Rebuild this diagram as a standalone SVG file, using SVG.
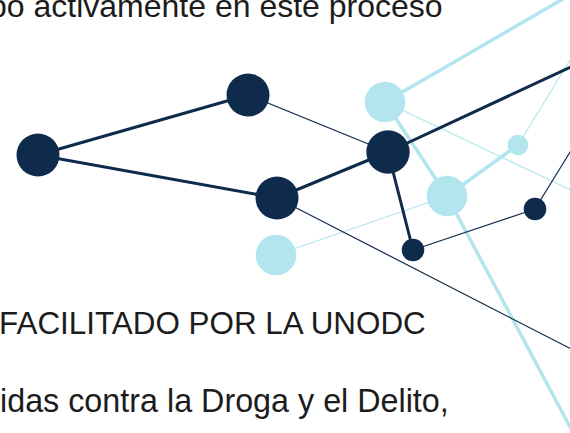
<svg xmlns="http://www.w3.org/2000/svg" width="570" height="433" viewBox="0 0 570 433">
<style>
.t{font-family:"Liberation Sans",Arial,sans-serif;font-size:32px;fill:#1c1c1c}
.dk{stroke:#0f2b4c;fill:none;stroke-linecap:round}
.lb{stroke:#b3e5ef;fill:none;stroke-linecap:round}
.thick{stroke-width:3}
.thin{stroke-width:1.2}
.lthick{stroke-width:3.5}
.nd{fill:#0f2b4c}
.nl{fill:#b3e5ef}
</style>
<rect width="570" height="433" fill="#ffffff"/>
<g id="texts">
<text class="t" x="-11" y="17">bo activamente en este proceso</text>
<text class="t" x="-1" y="334" style="font-size:31.4px">FACILITADO POR LA UNODC</text>
<text class="t" x="0" y="412" style="font-size:32.3px">idas contra la Droga y el Delito,</text>
</g>
<g id="connectors">
<line class="lb thin" x1="385" y1="102" x2="575" y2="192"/>
<line class="lb thin" x1="518" y1="145" x2="575" y2="52"/>
<line class="lb thin" x1="276" y1="255" x2="447" y2="196"/>
<line class="lb lthick" x1="385" y1="102" x2="563" y2="-1"/>
<line class="lb lthick" x1="385" y1="102" x2="447" y2="196"/>
<line class="lb lthick" x1="447" y1="196" x2="577" y2="440"/>
<line class="lb lthick" x1="447" y1="196" x2="518" y2="145"/>
<line class="dk thin" x1="248" y1="95" x2="388" y2="152"/>
<line class="dk thin" x1="277" y1="198" x2="575" y2="351"/>
<line class="dk thin" x1="413" y1="250" x2="535" y2="209"/>
<line class="dk thin" x1="535" y1="209" x2="575" y2="144"/>
<line class="dk thick" x1="38" y1="155" x2="248" y2="95"/>
<line class="dk thick" x1="38" y1="155" x2="277" y2="198"/>
<line class="dk thick" x1="277" y1="198" x2="388" y2="152"/>
<line class="dk thick" x1="388" y1="152" x2="575" y2="65"/>
<line class="dk thick" x1="388" y1="152" x2="413" y2="250"/>
</g>
<g id="node-a"><circle class="nd" cx="38" cy="155" r="21.5"/></g>
<g id="node-b"><circle class="nd" cx="248" cy="95" r="21.5"/></g>
<g id="node-c"><circle class="nd" cx="277" cy="198" r="21.5"/></g>
<g id="node-g"><circle class="nl" cx="385" cy="102" r="20.3"/></g>
<g id="node-d"><circle class="nd" cx="388" cy="152" r="21.7"/></g>
<g id="node-h"><circle class="nl" cx="447" cy="196" r="20.3"/></g>
<g id="node-i"><circle class="nl" cx="518" cy="145" r="10.3"/></g>
<g id="node-j"><circle class="nl" cx="276" cy="255" r="20.3"/></g>
<g id="node-e"><circle class="nd" cx="413" cy="250" r="11.3"/></g>
<g id="node-f"><circle class="nd" cx="535" cy="209" r="11.3"/></g>
</svg>
